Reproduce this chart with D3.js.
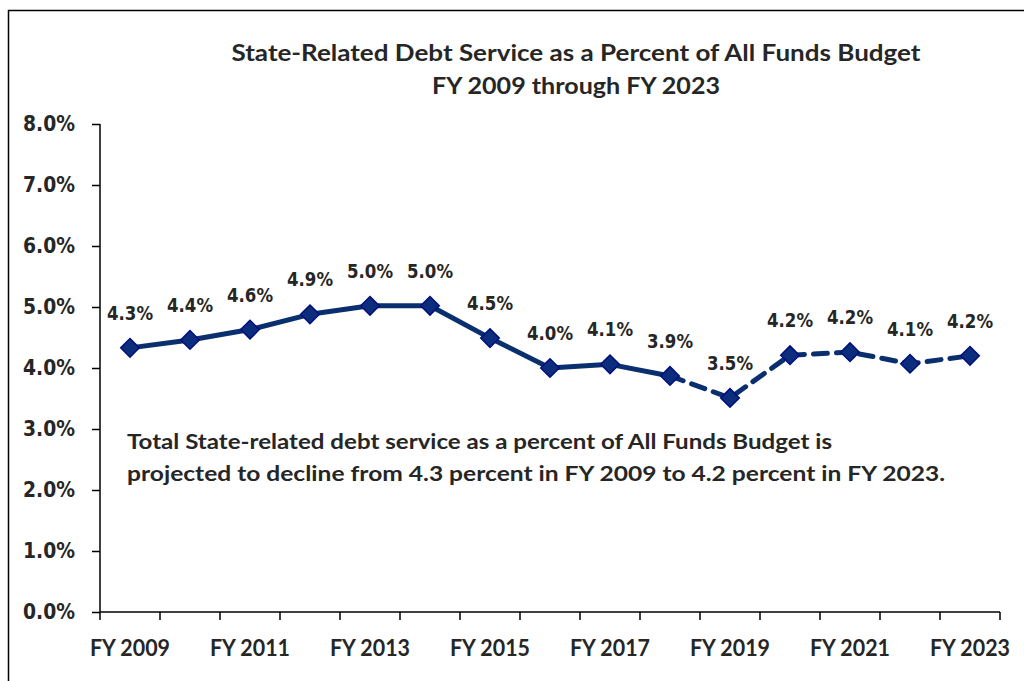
<!DOCTYPE html>
<html>
<head>
<meta charset="utf-8">
<script src="https://cdn.jsdelivr.net/npm/d3@7"></script>
<style>
  html, body { margin: 0; padding: 0; background: #fff; }
  svg { display: block; }
</style>
</head>
<body>
<svg id="chart" width="1024" height="681"></svg>
<script>
// ---- Data ----
const categories = ["FY 2009","FY 2010","FY 2011","FY 2012","FY 2013","FY 2014","FY 2015","FY 2016",
                    "FY 2017","FY 2018","FY 2019","FY 2020","FY 2021","FY 2022","FY 2023"];
const values = [4.33, 4.46, 4.63, 4.88, 5.02, 5.02, 4.49, 4.0, 4.06, 3.87, 3.51, 4.21, 4.26, 4.07, 4.2];
const valueLabels = ["4.3%","4.4%","4.6%","4.9%","5.0%","5.0%","4.5%","4.0%","4.1%","3.9%","3.5%","4.2%","4.2%","4.1%","4.2%"];
const lastActual = "FY 2018"; // solid up to here, dashed (projected) after
const yTicks = [0, 1, 2, 3, 4, 5, 6, 7, 8];
const xTickLabels = ["FY 2009","FY 2011","FY 2013","FY 2015","FY 2017","FY 2019","FY 2021","FY 2023"];
const titleLines = ["State-Related Debt Service as a Percent of All Funds Budget", "FY 2009 through FY 2023"];
const noteLines = ["Total State-related debt service as a percent of All Funds Budget is",
                   "projected to decline from 4.3 percent in FY 2009 to 4.2 percent in FY 2023."];

// ---- Layout ----
const svg = d3.select("#chart");
const pLeft = 100, pRight = 1000, pTop = 124, pBottom = 612;
const textColor = "#262626";
const navy = "#0a2f6e";
const labelFont = "'DejaVu Sans', Verdana, sans-serif";
const narrowFont = "Lato, 'Open Sans', sans-serif";

// Outer border (top and left visible)
svg.append("rect").attr("x", 8.5).attr("y", 10.5).attr("width", 1030).attr("height", 700)
  .attr("fill", "none").attr("stroke", "#000").attr("stroke-width", 1.5);

const x = d3.scaleBand().domain(categories).range([pLeft, pRight]).padding(0);
const y = d3.scaleLinear().domain([0, 8]).range([pBottom, pTop]);
const cx = d => x(d) + x.bandwidth() / 2;

// Title
svg.append("g").selectAll("text").data(titleLines).join("text")
  .attr("x", 576).attr("y", (d, i) => 61 + i * 33)
  .attr("text-anchor", "middle")
  .attr("font-family", narrowFont).attr("font-weight", "bold").attr("font-size", 22.5)
  .attr("fill", textColor)
  .attr("textLength", (d, i) => i === 0 ? 689 : 288)
  .attr("lengthAdjust", "spacingAndGlyphs")
  .text(d => d);

// Y axis
const yAxis = d3.axisLeft(y).tickValues(yTicks).tickFormat(d => d3.format(".1f")(d) + "%").tickSize(8).tickPadding(17);
const gy = svg.append("g").attr("transform", `translate(${pLeft},0)`).call(yAxis);
gy.select(".domain").attr("stroke", "#000").attr("stroke-width", 1.5).attr("d", `M0,${pTop}V${pBottom}`);
gy.selectAll(".tick line").attr("stroke", "#000").attr("stroke-width", 1.5);
gy.selectAll(".tick text").attr("font-family", labelFont).attr("font-weight", "bold")
  .attr("font-size", 21).attr("fill", textColor)
  .attr("textLength", 52).attr("lengthAdjust", "spacingAndGlyphs");

// X axis: ticks at category boundaries
const boundaries = categories.map(c => x(c)).concat([pRight]);
const gx = svg.append("g").attr("transform", `translate(0,${pBottom})`);
gx.append("path").attr("d", `M${pLeft},0H${pRight}`).attr("stroke", "#000").attr("stroke-width", 1.5).attr("fill", "none");
gx.selectAll("line.tk").data(boundaries).join("line").attr("class", "tk")
  .attr("x1", d => d).attr("x2", d => d).attr("y1", 0).attr("y2", 8)
  .attr("stroke", "#000").attr("stroke-width", 1.5);
gx.selectAll("text").data(xTickLabels).join("text")
  .attr("x", d => cx(d)).attr("y", 44)
  .attr("text-anchor", "middle")
  .attr("font-family", narrowFont).attr("font-weight", "bold").attr("font-size", 23)
  .attr("fill", textColor)
  .attr("textLength", 80).attr("lengthAdjust", "spacingAndGlyphs")
  .text(d => d);

// Lines
const pts = categories.map((c, i) => ({c, v: values[i], l: valueLabels[i], i}));
const splitIdx = categories.indexOf(lastActual);
const line = d3.line().x(d => cx(d.c)).y(d => y(d.v));
svg.append("path").datum(pts.slice(0, splitIdx + 1)).attr("d", line)
  .attr("fill", "none").attr("stroke", navy).attr("stroke-width", 5).attr("stroke-linejoin", "round");
svg.append("path").datum(pts.slice(splitIdx)).attr("d", line)
  .attr("fill", "none").attr("stroke", navy).attr("stroke-width", 5)
  .attr("stroke-dasharray", "14,9").attr("stroke-linecap", "round");

// Markers
const diamond = d3.symbol().type(d3.symbolDiamond2).size(220);
svg.append("g").selectAll("path").data(pts).join("path")
  .attr("transform", d => `translate(${cx(d.c)},${y(d.v)})`)
  .attr("d", diamond)
  .attr("fill", "#0c2c7c").attr("stroke", "#000f80").attr("stroke-width", 1.5);

// Data labels
svg.append("g").selectAll("text").data(pts).join("text")
  .attr("x", d => cx(d.c)).attr("y", d => y(d.v) - 28)
  .attr("text-anchor", "middle")
  .attr("font-family", labelFont).attr("font-weight", "bold").attr("font-size", 19)
  .attr("fill", textColor)
  .attr("textLength", 46).attr("lengthAdjust", "spacingAndGlyphs")
  .text(d => d.l);

// Annotation
svg.append("g").selectAll("text").data(noteLines).join("text")
  .attr("x", 127).attr("y", (d, i) => 449 + i * 32)
  .attr("font-family", narrowFont).attr("font-weight", "bold").attr("font-size", 21.5)
  .attr("fill", textColor)
  .attr("textLength", (d, i) => i === 0 ? 705 : 818)
  .attr("lengthAdjust", "spacingAndGlyphs")
  .text(d => d);
</script>
</body>
</html>
